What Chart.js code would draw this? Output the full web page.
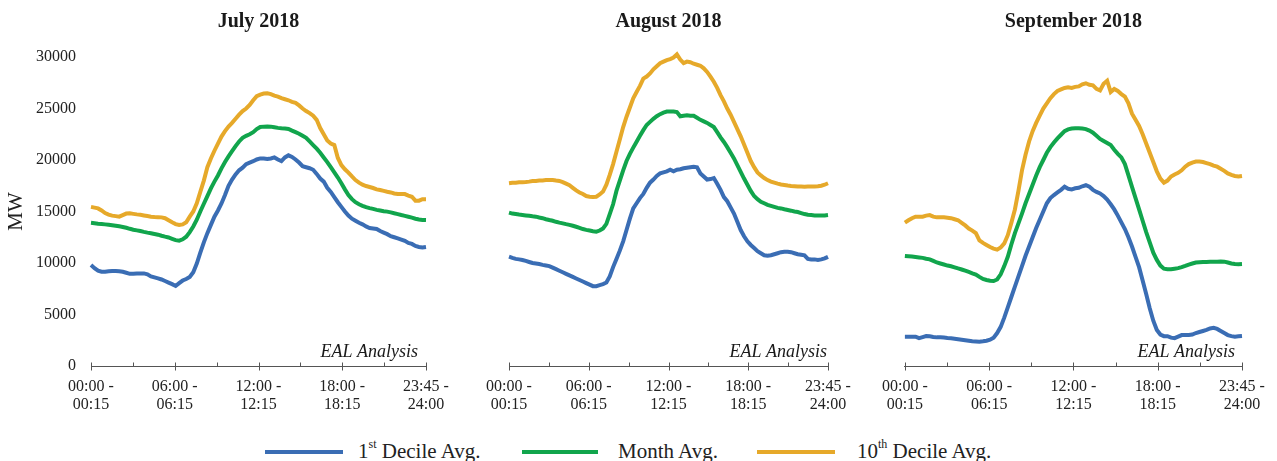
<!DOCTYPE html>
<html>
<head>
<meta charset="utf-8">
<script src="https://cdn.jsdelivr.net/npm/chart.js@4.4.1/dist/chart.umd.min.js"></script>
<style>
  body { margin: 0; background: #fff; width: 1277px; height: 461px; overflow: hidden; position: relative; font-family: 'Liberation Serif', 'Times New Roman', serif; }
  .panel { position: absolute; top: 0; }
  .item { position: absolute; top: 439px; height: 24px; display: flex; align-items: center; white-space: nowrap; font-size: 21px; color: #222; }
  .swatch { height: 4px; margin-top: 2px; }
  .item sup { font-size: 12px; position: relative; top: -2px; }
</style>
</head>
<body>
<div class="panel" style="left:0px"><canvas id="julyChart" width="470" height="420"></canvas></div>
<div class="panel" style="left:470px"><canvas id="augChart" width="400" height="420"></canvas></div>
<div class="panel" style="left:870px"><canvas id="sepChart" width="407" height="420"></canvas></div>
<div id="legend"></div>
<script>
const seriesNames = ['1st Decile Avg.', 'Month Avg.', '10th Decile Avg.'];
const seriesColors = ['#3a6db4', '#11a54c', '#e6a92a'];
const xTickLabels = [['00:00 -', '00:15'], ['06:00 -', '06:15'], ['12:00 -', '12:15'], ['18:00 -', '18:15'], ['23:45 -', '24:00']];
const yTicks = [0, 5000, 10000, 15000, 20000, 25000, 30000];

// 96 quarter-hour intervals per month (MW)
const julyFirstDecile = [
  9800, 9500, 9250, 9150, 9150, 9200, 9220, 9220, 9200, 9150, 9050, 8950,
  8950, 8980, 8990, 8990, 8900, 8700, 8600, 8500, 8400, 8250, 8100, 7950,
  7770, 8050, 8300, 8450, 8650, 9100, 9950, 11000, 12000, 12900, 13700, 14500,
  15100, 15780, 16600, 17500, 18100, 18600, 19000, 19250, 19600, 19750, 19880, 20050,
  20150, 20150, 20100, 20150, 20250, 20050, 19900, 20250, 20450, 20300, 20050, 19750,
  19400, 19300, 19200, 19050, 18650, 18200, 17900, 17300, 16900, 16400, 15900, 15450,
  15000, 14600, 14300, 14100, 13900, 13750, 13550, 13400, 13350, 13300, 13100, 12950,
  12800, 12600, 12500, 12400, 12280, 12150, 11950, 11850, 11650, 11550, 11500, 11550
];
const julyMonthAvg = [
  13900, 13860, 13820, 13790, 13750, 13710, 13670, 13620, 13560, 13500, 13420, 13320,
  13230, 13170, 13100, 13020, 12950, 12890, 12820, 12750, 12650, 12560, 12480, 12350,
  12220, 12170, 12300, 12550, 13000, 13550, 14200, 15000, 15750, 16500, 17250, 17900,
  18500, 19190, 19800, 20350, 20850, 21350, 21800, 22150, 22350, 22500, 22700, 23000,
  23200, 23240, 23250, 23240, 23180, 23120, 23080, 23050, 23010, 22850, 22700, 22550,
  22350, 22150, 21800, 21450, 21100, 20700, 20250, 19800, 19300, 18800, 18300, 17750,
  17150, 16600, 16200, 15900, 15700, 15550, 15420, 15330, 15250, 15160, 15100, 15030,
  14990, 14920, 14830, 14750, 14660, 14580, 14490, 14400, 14300, 14220, 14180, 14170
];
const julyTenthDecile = [
  15450, 15380, 15300, 15100, 14850, 14700, 14600, 14550, 14500, 14650, 14800, 14820,
  14770, 14720, 14680, 14620, 14560, 14500, 14470, 14450, 14430, 14350, 14150, 13950,
  13780, 13690, 13750, 13950, 14500, 15000, 15800, 16900, 18000, 19300, 20150, 20900,
  21600, 22270, 22800, 23250, 23600, 24000, 24400, 24750, 25000, 25350, 25800, 26200,
  26350, 26450, 26480, 26400, 26250, 26150, 26000, 25900, 25800, 25650, 25550, 25300,
  25000, 24750, 24550, 24300, 23900, 23100, 22500, 21900, 21600, 21450, 20200, 19500,
  19100, 18770, 18400, 18050, 17800, 17600, 17470, 17380, 17280, 17150, 17080, 17000,
  16920, 16850, 16750, 16690, 16690, 16690, 16550, 16430, 16050, 16050, 16200, 16200
];

const augFirstDecile = [
  10610, 10500, 10400, 10350, 10290, 10200, 10100, 10000, 9960, 9900, 9820, 9760,
  9700, 9550, 9400, 9250, 9100, 8950, 8800, 8650, 8500, 8350, 8200, 8050,
  7900, 7750, 7750, 7850, 7950, 8100, 8700, 9600, 10400, 11200, 12100, 13200,
  14300, 15300, 15800, 16300, 16700, 17300, 17800, 18100, 18450, 18700, 18800, 18900,
  19050, 18900, 19050, 19100, 19200, 19250, 19300, 19350, 19300, 18700, 18400, 18100,
  18150, 18250, 17700, 17100, 16400, 16000, 15400, 14800, 14000, 13200, 12600, 12100,
  11750, 11450, 11150, 10950, 10750, 10700, 10750, 10850, 10950, 11050, 11100, 11100,
  11050, 10950, 10850, 10800, 10750, 10400, 10350, 10350, 10300, 10350, 10450, 10600
];
const augMonthAvg = [
  14890, 14800, 14750, 14700, 14660, 14620, 14580, 14530, 14500, 14420, 14350, 14250,
  14170, 14100, 14000, 13920, 13850, 13770, 13700, 13620, 13520, 13420, 13300, 13220,
  13150, 13080, 13040, 13150, 13360, 13800, 14750, 15700, 17000, 18000, 19000, 19900,
  20600, 21200, 21780, 22350, 22900, 23400, 23700, 24000, 24250, 24450, 24600, 24700,
  24700, 24700, 24650, 24250, 24300, 24350, 24300, 24300, 24100, 23900, 23750, 23600,
  23400, 23200, 22700, 22200, 21750, 21250, 20700, 20150, 19500, 18850, 18200, 17600,
  17000, 16500, 16200, 15950, 15800, 15650, 15550, 15450, 15350, 15300, 15220, 15150,
  15080, 15000, 14950, 14850, 14750, 14680, 14650, 14620, 14600, 14600, 14620, 14660
];
const augTenthDecile = [
  17740, 17780, 17800, 17840, 17850, 17870, 17900, 17950, 17970, 18000, 18020, 18050,
  18060, 18050, 18000, 17970, 17850, 17700, 17550, 17300, 17050, 16850, 16700, 16500,
  16440, 16420, 16440, 16650, 16930, 17600, 18550, 19600, 20800, 22000, 23200, 24200,
  25100, 26000, 26600, 27200, 27900, 28100, 28400, 28800, 29100, 29400, 29550, 29700,
  29800, 29950, 30250, 29750, 29400, 29550, 29500, 29350, 29250, 29150, 28900, 28550,
  28100, 27600, 27000, 26300, 25700, 25000, 24400, 23700, 23000, 22300, 21500, 20700,
  19900, 19300, 18800, 18500, 18250, 18050, 17900, 17800, 17700, 17620, 17580, 17520,
  17480, 17450, 17420, 17420, 17400, 17420, 17420, 17430, 17450, 17500, 17600, 17740
];

const sepFirstDecile = [
  2850, 2850, 2850, 2850, 2700, 2800, 2900, 2880, 2820, 2780, 2780, 2760,
  2720, 2690, 2650, 2600, 2550, 2500, 2450, 2400, 2380, 2360, 2400, 2450,
  2550, 2750, 3200, 3800, 4700, 5700, 6700, 7700, 8700, 9700, 10700, 11600,
  12500, 13400, 14200, 15000, 15800, 16300, 16600, 16850, 17100, 17400, 17200, 17150,
  17250, 17300, 17450, 17550, 17400, 17100, 16900, 16750, 16500, 16150, 15700, 15200,
  14600, 13950, 13300, 12500, 11600, 10600, 9600, 8300, 7000, 5600, 4400, 3500,
  3050, 2900, 2900, 2750, 2700, 2850, 3000, 3000, 3000, 3050, 3200, 3300,
  3400, 3500, 3650, 3700, 3600, 3400, 3200, 3000, 2900, 2850, 2880, 2910
];
const sepMonthAvg = [
  10680, 10650, 10620, 10580, 10540, 10500, 10420, 10350, 10200, 10050, 9950, 9850,
  9750, 9680, 9580, 9470, 9370, 9250, 9130, 9000, 8880, 8650, 8450, 8350,
  8270, 8250, 8400, 8900, 9700, 10600, 11800, 12900, 13850, 14800, 15800, 16700,
  17600, 18500, 19300, 20000, 20700, 21250, 21700, 22100, 22450, 22800, 22970, 23050,
  23080, 23080, 23050, 23000, 22850, 22650, 22350, 22050, 21850, 21650, 21450, 21000,
  20600, 20250, 19600, 18500, 17400, 16300, 15200, 14100, 13000, 12000, 11000, 10300,
  9750, 9450, 9400, 9400, 9450, 9500, 9600, 9720, 9850, 9950, 10050, 10080,
  10100, 10100, 10120, 10130, 10130, 10150, 10130, 10050, 9950, 9900, 9880, 9900
];
const sepTenthDecile = [
  13920, 14150, 14350, 14500, 14500, 14500, 14600, 14650, 14500, 14430, 14430, 14430,
  14400, 14350, 14250, 14150, 13900, 13650, 13350, 13150, 12900, 12200, 11950, 11750,
  11550, 11400, 11300, 11500, 11900, 12700, 13900, 15200, 17000, 19000, 20500, 21800,
  22800, 23600, 24300, 25000, 25500, 26000, 26400, 26700, 26850, 27000, 27050, 27000,
  27100, 27150, 27350, 27450, 27300, 27250, 26900, 26750, 27400, 27700, 26600, 26900,
  26700, 26400, 26150, 25500, 24500, 23900, 23300, 22500, 21600, 20700, 19800, 18900,
  18200, 17800, 18000, 18400, 18600, 18750, 19000, 19350, 19600, 19750, 19850, 19850,
  19800, 19700, 19600, 19450, 19350, 19150, 18950, 18700, 18550, 18450, 18400, 18450
];

const FONT = "'Liberation Serif', 'Times New Roman', serif";

// panel title, "EAL Analysis" note and the axis tick marks
const panelDecor = {
    id: 'panelDecor',
    afterDraw(chart, args, opts) {
        const { ctx, chartArea } = chart;
        const xs = chart.scales.x;
        ctx.save();
        ctx.fillStyle = '#1a1a1a';
        ctx.font = 'bold 20px ' + FONT;
        ctx.textAlign = 'center';
        ctx.textBaseline = 'alphabetic';
        ctx.fillText(opts.title, (chartArea.left + chartArea.right) / 2, 27);

        ctx.font = 'italic 18px ' + FONT;
        ctx.textAlign = 'right';
        ctx.fillText('EAL Analysis', chartArea.right - opts.ealInset, chartArea.bottom - 9);

        ctx.strokeStyle = '#555';
        ctx.lineWidth = 1;
        const yb = Math.round(chartArea.bottom) + 0.5;
        const n = (xTickLabels.length - 1) * 2;
        for (let k = 0; k <= n; k++) {
            const px = Math.round(xs.getPixelForValue(k * xs.max / n)) + 0.5;
            ctx.beginPath();
            ctx.moveTo(px, yb - 4);
            ctx.lineTo(px, k % 2 === 0 ? yb + 4 : yb);
            ctx.stroke();
        }
        ctx.restore();
    }
};

function makePanel(canvasId, title, series, showY, padLeft, padRight, ealInset) {
    const ctx = document.getElementById(canvasId).getContext('2d');
    const yScale = {
        min: 0,
        max: 30000,
        display: showY,
        afterBuildTicks: s => { s.ticks = yTicks.map(v => ({ value: v })); },
        ticks: { padding: 15, color: '#222', font: { family: FONT, size: 16 }, callback: v => String(v) },
        grid: { display: false, drawTicks: false },
        border: { display: false },
        title: { display: true, text: 'MW', color: '#222', font: { family: FONT, size: 21 }, padding: { top: 4, bottom: 0 } }
    };
    if (showY) yScale.afterFit = s => { s.width = 91; };

    return new Chart(ctx, {
        type: 'line',
        data: {
            datasets: series.map((s, k) => ({
                label: seriesNames[k],
                data: s.map((v, i) => ({ x: i, y: v })),
                borderColor: seriesColors[k],
                borderWidth: 4,
                pointRadius: 0,
                tension: 0,
                fill: false,
                clip: false
            }))
        },
        options: {
            responsive: false,
            animation: false,
            layout: { padding: { left: padLeft, right: padRight, top: 57, bottom: 0 } },
            plugins: {
                legend: { display: false },
                tooltip: { enabled: false },
                panelDecor: { title: title, ealInset: ealInset }
            },
            scales: {
                x: {
                    type: 'linear',
                    min: 0,
                    max: 95,
                    afterBuildTicks: s => {
                        s.ticks = xTickLabels.map((l, k) => ({ value: k * 95 / (xTickLabels.length - 1) }));
                    },
                    afterFit: s => { s.height = 54; },
                    ticks: {
                        autoSkip: false, maxRotation: 0, minRotation: 0, padding: 12, color: '#222',
                        font: { family: FONT, size: 16, lineHeight: 1.125 },
                        callback: (v, i) => xTickLabels[i]
                    },
                    grid: { display: false, drawTicks: false },
                    border: { display: true, color: '#555', width: 1 }
                },
                y: yScale
            }
        },
        plugins: [panelDecor]
    });
}

makePanel('julyChart', 'July 2018', [julyFirstDecile, julyMonthAvg, julyTenthDecile], true, 0, 44, 8);
makePanel('augChart', 'August 2018', [augFirstDecile, augMonthAvg, augTenthDecile], false, 39, 42, 1);
makePanel('sepChart', 'September 2018', [sepFirstDecile, sepMonthAvg, sepTenthDecile], false, 34, 35, 7);

// legend with superscript ordinals
const legendLefts = [265, 522, 757];
const swatchWidths = [78, 76, 78];
const labelGaps = [15, 20, 22];
const legendDiv = document.getElementById('legend');
seriesNames.forEach((name, k) => {
    const item = document.createElement('div');
    item.className = 'item';
    item.style.left = legendLefts[k] + 'px';
    const sw = document.createElement('span');
    sw.className = 'swatch';
    sw.style.background = seriesColors[k];
    sw.style.width = swatchWidths[k] + 'px';
    sw.style.marginRight = labelGaps[k] + 'px';
    const lab = document.createElement('span');
    lab.innerHTML = name.replace(/^(\d+)(st|th)/, '$1<sup>$2</sup>');
    item.appendChild(sw);
    item.appendChild(lab);
    legendDiv.appendChild(item);
});
</script>
</body>
</html>
